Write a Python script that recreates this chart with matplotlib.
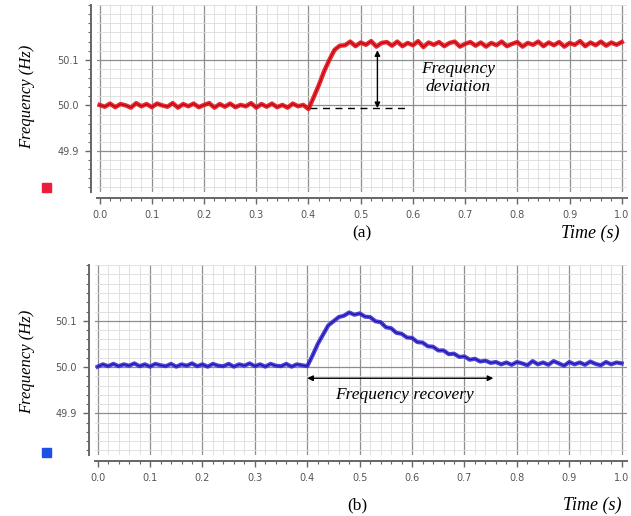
import numpy as np
import matplotlib
matplotlib.use("Agg")
import matplotlib.pyplot as plt
from matplotlib.patches import Rectangle
from matplotlib.ticker import MultipleLocator

# sample times (s), 0.01 s step
time_s = np.round(np.arange(0, 1.001, 0.01), 2)

# (a) frequency step
freq_a = [50.001, 49.997, 50.004, 49.996, 50.003, 50.000, 49.995, 50.005, 49.998, 50.003,
          49.996, 50.004, 50.000, 49.997, 50.005, 49.995, 50.003, 49.998, 50.004, 49.996,
          50.001, 50.005, 49.995, 50.003, 49.997, 50.004, 49.996, 50.001, 49.998, 50.005,
          49.995, 50.003, 49.997, 50.004, 49.996, 50.001, 49.995, 50.004, 49.998, 50.001,
          49.992,
          50.018, 50.045, 50.075, 50.100, 50.122, 50.131,
          50.132, 50.140, 50.130, 50.138, 50.133, 50.141, 50.129, 50.137, 50.139, 50.131,
          50.140, 50.130, 50.137, 50.132, 50.141, 50.128, 50.138, 50.133, 50.139, 50.130,
          50.137, 50.140, 50.129, 50.135, 50.139, 50.131, 50.138, 50.129, 50.137, 50.132,
          50.140, 50.130, 50.135, 50.139, 50.129, 50.137, 50.133, 50.140, 50.130, 50.138,
          50.132, 50.139, 50.129, 50.137, 50.133, 50.141, 50.130, 50.138, 50.132, 50.140,
          50.131, 50.138, 50.133, 50.139]

# (b) frequency excursion and recovery
freq_b = [50.001, 50.006, 50.002, 50.007, 50.002, 50.006, 50.003, 50.008, 50.002, 50.006,
          50.001, 50.007, 50.004, 50.002, 50.007, 50.001, 50.006, 50.003, 50.008, 50.002,
          50.006, 50.001, 50.007, 50.003, 50.002, 50.007, 50.001, 50.006, 50.003, 50.008,
          50.002, 50.006, 50.001, 50.007, 50.003, 50.002, 50.007, 50.001, 50.006, 50.004,
          50.002,
          50.025, 50.050, 50.070, 50.090, 50.099, 50.108, 50.111, 50.118, 50.113, 50.116,
          50.109, 50.108, 50.099, 50.097, 50.086, 50.084, 50.074, 50.072, 50.064, 50.063,
          50.054, 50.053, 50.045, 50.044, 50.036, 50.036, 50.028, 50.029, 50.022, 50.023,
          50.016, 50.018, 50.012, 50.014, 50.009,
          50.011, 50.006, 50.010, 50.005, 50.011, 50.008, 50.004, 50.013, 50.006, 50.010,
          50.005, 50.013, 50.008, 50.003, 50.011, 50.006, 50.010, 50.005, 50.012, 50.007,
          50.004, 50.011, 50.006, 50.010, 50.008]

x_ticks = [0.0, 0.1, 0.2, 0.3, 0.4, 0.5, 0.6, 0.7, 0.8, 0.9, 1.0]
y_ticks = [49.9, 50.0, 50.1]

SERIF = ["Liberation Serif", "DejaVu Serif"]
RED = "#e8141c"
BLUE = "#3a2ed6"


def style_axes(ax):
    ax.set_xlim(-0.005, 1.01)
    ax.set_ylim(49.81, 50.22)
    ax.set_xticks(x_ticks)
    ax.set_xticklabels([f"{v:.1f}" for v in x_ticks])
    ax.set_yticks(y_ticks)
    ax.set_yticklabels([f"{v:.1f}" for v in y_ticks])
    ax.xaxis.set_minor_locator(MultipleLocator(0.02))
    ax.yaxis.set_minor_locator(MultipleLocator(0.02))
    ax.grid(which="major", color="#8e8e8e", lw=0.9)
    ax.grid(which="minor", color="#dcdcdc", lw=0.6)
    ax.set_axisbelow(True)
    for s in ("top", "right"):
        ax.spines[s].set_visible(False)
    for s in ("left", "bottom"):
        ax.spines[s].set_position(("outward", 4))
        ax.spines[s].set_color("#666666")
        ax.spines[s].set_linewidth(1.4)
    ax.tick_params(which="major", length=4, width=1.0, color="#666666",
                   labelsize=7, labelcolor="#555555", pad=5)
    ax.tick_params(which="minor", length=2, width=0.8, color="#666666")


fig = plt.figure(figsize=(6.31, 5.16), dpi=100)
ax_a = fig.add_axes([0.1537, 0.628, 0.840, 0.362])
ax_b = fig.add_axes([0.1506, 0.118, 0.843, 0.368])

for ax in (ax_a, ax_b):
    style_axes(ax)

ax_a.plot(time_s, freq_a, color=RED, lw=3.2, alpha=0.9)
ax_a.plot(time_s, freq_a, color="#b0000c", lw=0.7)
ax_b.plot(time_s, freq_b, color=BLUE, lw=3.0, alpha=0.9)
ax_b.plot(time_s, freq_b, color="#1a0ca0", lw=0.7)

# annotations (a)
ax_a.plot([0.403, 0.595], [49.994, 49.994], color="black", lw=1.0, ls=(0, (5, 4)))
ax_a.annotate("", xy=(0.532, 50.121), xytext=(0.532, 49.994),
              arrowprops=dict(arrowstyle="<|-|>", color="black", lw=1.0,
                              mutation_scale=8, shrinkA=0, shrinkB=0))
ax_a.text(0.687, 50.060, "Frequency\ndeviation", ha="center", va="center",
          fontsize=12.5, style="italic", family=SERIF, linespacing=1.15)

# annotations (b)
ax_b.annotate("", xy=(0.400, 49.976), xytext=(0.755, 49.976),
              arrowprops=dict(arrowstyle="<|-|>", color="black", lw=1.0,
                              mutation_scale=8, shrinkA=0, shrinkB=0))
ax_b.text(0.585, 49.940, "Frequency recovery", ha="center", va="center",
          fontsize=12.5, style="italic", family=SERIF)

# axis labels and panel captions
fig.text(0.043, 0.812, "Frequency (Hz)", rotation=90, ha="center", va="center",
         fontsize=12, style="italic", family=SERIF)
fig.text(0.043, 0.298, "Frequency (Hz)", rotation=90, ha="center", va="center",
         fontsize=12, style="italic", family=SERIF)
fig.text(0.574, 0.548, "(a)", ha="center", va="center", fontsize=12.5, family=SERIF)
fig.text(0.567, 0.021, "(b)", ha="center", va="center", fontsize=12.5, family=SERIF)
fig.text(0.935, 0.548, "Time (s)", ha="center", va="center", fontsize=13,
         style="italic", family=SERIF)
fig.text(0.938, 0.021, "Time (s)", ha="center", va="center", fontsize=13,
         style="italic", family=SERIF)

# small colour legend squares
fig.add_artist(Rectangle((0.067, 1 - 192 / 516), 9 / 631, 9 / 516,
                         transform=fig.transFigure, color="#ee1c3a"))
fig.add_artist(Rectangle((0.066, 1 - 457 / 516), 9 / 631, 9 / 516,
                         transform=fig.transFigure, color="#1e4fe6"))

fig.savefig("out.png", dpi=100)
